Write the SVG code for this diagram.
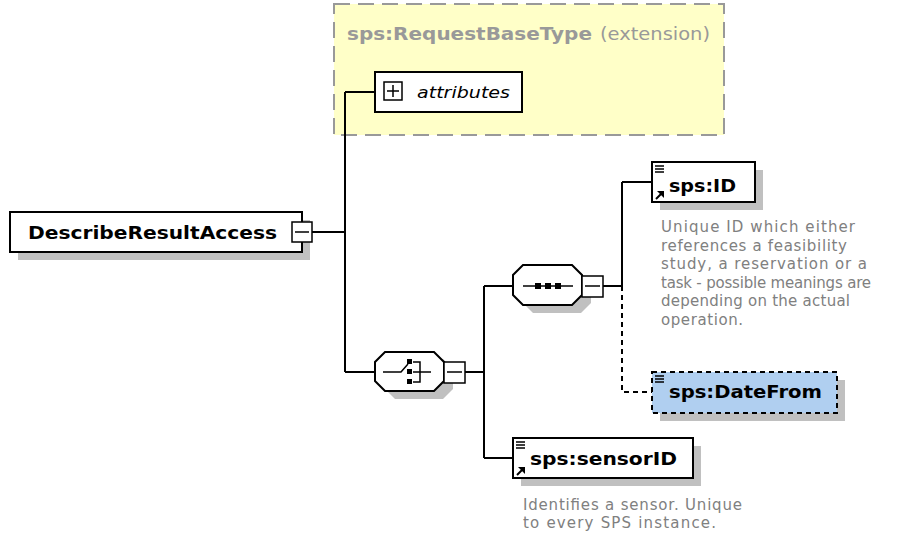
<svg xmlns="http://www.w3.org/2000/svg" width="897" height="538" viewBox="0 0 897 538">
<style>
.box{fill:#fff;stroke:#000;stroke-width:2}
.shadow{fill:#c0c0c0}
.ln{fill:none;stroke:#000;stroke-width:2}
.dash{fill:none;stroke:#000;stroke-width:2;stroke-dasharray:5 4}
.lbl{font-family:"DejaVu Sans",Verdana,sans-serif;font-weight:bold;font-size:18px;fill:#000}
.desc{font-family:"DejaVu Sans",Verdana,sans-serif;font-size:15px;fill:#808080}
.ico{fill:none;stroke:#000;stroke-width:1.5}
</style>
<rect width="897" height="538" fill="#fff"/>
<g id="extension">
<rect x="334" y="4" width="390" height="131" fill="#ffffc8" stroke="#999" stroke-width="2" stroke-dasharray="16 8"/>
<text x="347" y="40" font-family="DejaVu Sans,Verdana,sans-serif" font-size="17" fill="#999"><tspan font-weight="bold" textLength="245" lengthAdjust="spacingAndGlyphs">sps:RequestBaseType</tspan><tspan x="600" textLength="110" lengthAdjust="spacingAndGlyphs">(extension)</tspan></text>
</g>
<g id="connectors">
<path class="ln" d="M312 232H345M345 92V372M345 92H375M345 372H375M465 372H484M484 286V458M484 286H513M484 458H513M603 286H622M622 182V286M622 182H652"/>
<path class="dash" d="M622 286V392H652"/>
</g>
<g id="attributes">
<rect class="box" x="375" y="72" width="147" height="40"/>
<rect x="384" y="82" width="18" height="18" fill="#fff" stroke="#000" stroke-width="1.5"/>
<path class="ico" d="M387 91H399M393 85V97"/>
<text x="417" y="98" font-family="DejaVu Sans,Verdana,sans-serif" font-style="italic" font-size="16" textLength="93" lengthAdjust="spacingAndGlyphs">attributes</text>
</g>
<g id="DescribeResultAccess">
<rect class="shadow" x="18" y="220" width="292" height="40"/>
<rect class="box" x="10" y="212" width="292" height="40"/>
<text class="lbl" x="28" y="239" textLength="249" lengthAdjust="spacingAndGlyphs">DescribeResultAccess</text>
<rect x="292" y="222" width="20" height="20" fill="#fff" stroke="#000" stroke-width="1.5"/>
<path class="ico" d="M295 232H309"/>
</g>
<g id="choice">
<path class="shadow" d="M395 359H443L453 369V389L443 399H395L385 389V369Z"/>
<path d="M385 352H434L444 362V381L434 391H385L375 381V362Z" fill="#fff" stroke="#000" stroke-width="2"/>
<path class="ico" d="M383 372H401L408 364M413 362H420V382H413M413 372H431"/>
<rect x="407" y="359" width="5" height="5"/>
<rect x="407" y="369" width="5" height="5"/>
<rect x="407" y="379" width="5" height="5"/>
<rect x="444" y="362" width="21" height="21" fill="#fff" stroke="#000" stroke-width="1.5"/>
<path class="ico" d="M447 372H462"/>
</g>
<g id="sequence">
<path class="shadow" d="M533 273H581L591 283V303L581 313H533L523 303V283Z"/>
<path d="M523 265H572L582 275V295L572 305H523L513 295V275Z" fill="#fff" stroke="#000" stroke-width="2"/>
<path class="ico" d="M523 286H573"/>
<rect x="535" y="283" width="6" height="6"/>
<rect x="545" y="283" width="6" height="6"/>
<rect x="555" y="283" width="6" height="6"/>
<rect x="582" y="276" width="21" height="21" fill="#fff" stroke="#000" stroke-width="1.5"/>
<path class="ico" d="M585 286H600"/>
</g>
<g id="sps-ID">
<rect class="shadow" x="660" y="170" width="103" height="40"/>
<rect class="box" x="652" y="162" width="103" height="40"/>
<path class="ico" d="M655 166H664M655 169H664M655 172H664"/>
<path d="M656 199L662 193" fill="none" stroke="#000" stroke-width="2"/>
<path d="M657 191H664V198Z"/>
<text class="lbl" x="669" y="192" textLength="67" lengthAdjust="spacingAndGlyphs">sps:ID</text>
<text class="desc"><tspan x="661" y="232" textLength="194" lengthAdjust="spacing">Unique ID which either</tspan><tspan x="661" y="251" textLength="186" lengthAdjust="spacing">references a feasibility</tspan><tspan x="661" y="269" textLength="206" lengthAdjust="spacing">study, a reservation or a</tspan><tspan x="661" y="288" textLength="210" lengthAdjust="spacing">task - possible meanings are</tspan><tspan x="661" y="306" textLength="189" lengthAdjust="spacing">depending on the actual</tspan><tspan x="661" y="325" textLength="82" lengthAdjust="spacing">operation.</tspan></text>
</g>
<g id="sps-DateFrom">
<rect class="shadow" x="660" y="380" width="185" height="41"/>
<rect x="652" y="372" width="185" height="41" fill="#b0cff0" stroke="#000" stroke-width="2" stroke-dasharray="5 4"/>
<path class="ico" d="M655 376H664M655 379H664M655 382H664"/>
<text class="lbl" x="669" y="398" textLength="153" lengthAdjust="spacingAndGlyphs">sps:DateFrom</text>
</g>
<g id="sps-sensorID">
<rect class="shadow" x="521" y="446" width="180" height="40"/>
<rect class="box" x="513" y="438" width="180" height="40"/>
<path class="ico" d="M516 442H525M516 445H525M516 448H525"/>
<path d="M517 475L523 469" fill="none" stroke="#000" stroke-width="2"/>
<path d="M518 467H525V474Z"/>
<text class="lbl" x="530" y="465" textLength="147" lengthAdjust="spacingAndGlyphs">sps:sensorID</text>
<text class="desc"><tspan x="523" y="510" textLength="219" lengthAdjust="spacing">Identifies a sensor. Unique</tspan><tspan x="523" y="528" textLength="193" lengthAdjust="spacing">to every SPS instance.</tspan></text>
</g>
</svg>
